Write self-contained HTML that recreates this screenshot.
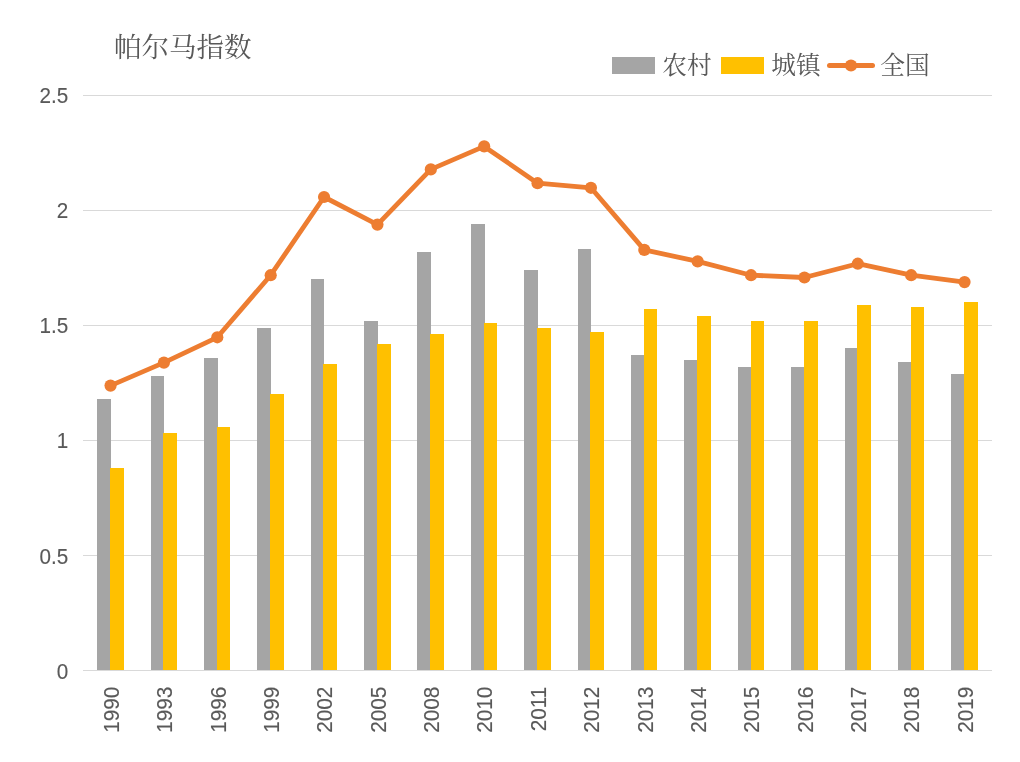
<!DOCTYPE html>
<html lang="zh-CN"><head><meta charset="utf-8"><title>帕尔马指数</title>
<style>
html,body{margin:0;padding:0;background:#fff;}
body{width:1020px;height:762px;overflow:hidden;position:relative;font-family:"Liberation Sans","Noto Sans CJK SC",sans-serif;}
svg{position:absolute;left:0;top:0;display:block}
text{fill:#595959}
.num{font-family:"Liberation Sans",sans-serif;font-size:21px;stroke:#595959;stroke-width:0.12px}
.cjk{font-family:"Noto Serif CJK SC","Liberation Serif",serif;}
</style></head><body>
<svg width="1020" height="762" viewBox="0 0 1020 762">
<rect width="1020" height="762" fill="#fff"/>
<g stroke="#d9d9d9" stroke-width="1" shape-rendering="crispEdges">
<line x1="83.0" y1="670.5" x2="992.0" y2="670.5"/>
<line x1="83.0" y1="555.5" x2="992.0" y2="555.5"/>
<line x1="83.0" y1="440.5" x2="992.0" y2="440.5"/>
<line x1="83.0" y1="325.5" x2="992.0" y2="325.5"/>
<line x1="83.0" y1="210.5" x2="992.0" y2="210.5"/>
<line x1="83.0" y1="95.5" x2="992.0" y2="95.5"/>
</g>
<g shape-rendering="crispEdges">
<rect x="97" y="399" width="14" height="271" fill="#a5a5a5"/>
<rect x="110" y="468" width="14" height="202" fill="#ffc000"/>
<rect x="151" y="376" width="13" height="294" fill="#a5a5a5"/>
<rect x="163" y="433" width="14" height="237" fill="#ffc000"/>
<rect x="204" y="358" width="14" height="312" fill="#a5a5a5"/>
<rect x="217" y="427" width="13" height="243" fill="#ffc000"/>
<rect x="257" y="328" width="14" height="342" fill="#a5a5a5"/>
<rect x="270" y="394" width="14" height="276" fill="#ffc000"/>
<rect x="311" y="279" width="13" height="391" fill="#a5a5a5"/>
<rect x="323" y="364" width="14" height="306" fill="#ffc000"/>
<rect x="364" y="321" width="14" height="349" fill="#a5a5a5"/>
<rect x="377" y="344" width="14" height="326" fill="#ffc000"/>
<rect x="417" y="252" width="14" height="418" fill="#a5a5a5"/>
<rect x="430" y="334" width="14" height="336" fill="#ffc000"/>
<rect x="471" y="224" width="14" height="446" fill="#a5a5a5"/>
<rect x="484" y="323" width="13" height="347" fill="#ffc000"/>
<rect x="524" y="270" width="14" height="400" fill="#a5a5a5"/>
<rect x="537" y="328" width="14" height="342" fill="#ffc000"/>
<rect x="578" y="249" width="13" height="421" fill="#a5a5a5"/>
<rect x="590" y="332" width="14" height="338" fill="#ffc000"/>
<rect x="631" y="355" width="14" height="315" fill="#a5a5a5"/>
<rect x="644" y="309" width="13" height="361" fill="#ffc000"/>
<rect x="684" y="360" width="14" height="310" fill="#a5a5a5"/>
<rect x="697" y="316" width="14" height="354" fill="#ffc000"/>
<rect x="738" y="367" width="14" height="303" fill="#a5a5a5"/>
<rect x="751" y="321" width="13" height="349" fill="#ffc000"/>
<rect x="791" y="367" width="14" height="303" fill="#a5a5a5"/>
<rect x="804" y="321" width="14" height="349" fill="#ffc000"/>
<rect x="845" y="348" width="13" height="322" fill="#a5a5a5"/>
<rect x="857" y="305" width="14" height="365" fill="#ffc000"/>
<rect x="898" y="362" width="14" height="308" fill="#a5a5a5"/>
<rect x="911" y="307" width="13" height="363" fill="#ffc000"/>
<rect x="951" y="374" width="14" height="296" fill="#a5a5a5"/>
<rect x="964" y="302" width="14" height="368" fill="#ffc000"/>
</g>
<polyline fill="none" stroke="#ed7d31" stroke-width="4.8" stroke-linejoin="round" stroke-linecap="round" points="110.55,385.60 163.93,362.60 217.30,337.30 270.68,275.20 324.05,197.00 377.43,224.60 430.80,169.40 484.18,146.40 537.55,183.20 590.92,187.80 644.30,249.90 697.67,261.40 751.05,275.20 804.42,277.50 857.80,263.70 911.17,275.20 964.55,282.10"/>
<circle cx="110.55" cy="385.60" r="6.1" fill="#ed7d31"/>
<circle cx="163.93" cy="362.60" r="6.1" fill="#ed7d31"/>
<circle cx="217.30" cy="337.30" r="6.1" fill="#ed7d31"/>
<circle cx="270.68" cy="275.20" r="6.1" fill="#ed7d31"/>
<circle cx="324.05" cy="197.00" r="6.1" fill="#ed7d31"/>
<circle cx="377.43" cy="224.60" r="6.1" fill="#ed7d31"/>
<circle cx="430.80" cy="169.40" r="6.1" fill="#ed7d31"/>
<circle cx="484.18" cy="146.40" r="6.1" fill="#ed7d31"/>
<circle cx="537.55" cy="183.20" r="6.1" fill="#ed7d31"/>
<circle cx="590.92" cy="187.80" r="6.1" fill="#ed7d31"/>
<circle cx="644.30" cy="249.90" r="6.1" fill="#ed7d31"/>
<circle cx="697.67" cy="261.40" r="6.1" fill="#ed7d31"/>
<circle cx="751.05" cy="275.20" r="6.1" fill="#ed7d31"/>
<circle cx="804.42" cy="277.50" r="6.1" fill="#ed7d31"/>
<circle cx="857.80" cy="263.70" r="6.1" fill="#ed7d31"/>
<circle cx="911.17" cy="275.20" r="6.1" fill="#ed7d31"/>
<circle cx="964.55" cy="282.10" r="6.1" fill="#ed7d31"/>
<text class="num" text-anchor="end" transform="translate(68.2,679.00) scale(0.985,1.03)">0</text>
<text class="num" text-anchor="end" transform="translate(68.2,564.00) scale(0.985,1.03)">0.5</text>
<text class="num" text-anchor="end" transform="translate(68.2,448.00) scale(0.985,1.03)">1</text>
<text class="num" text-anchor="end" transform="translate(68.2,333.00) scale(0.985,1.03)">1.5</text>
<text class="num" text-anchor="end" transform="translate(68.2,218.00) scale(0.985,1.03)">2</text>
<text class="num" text-anchor="end" transform="translate(68.2,103.00) scale(0.985,1.03)">2.5</text>
<text class="num" text-anchor="end" transform="translate(118.80,686.6) rotate(-90) scale(0.99,1.09)">1990</text>
<text class="num" text-anchor="end" transform="translate(172.18,686.6) rotate(-90) scale(0.99,1.09)">1993</text>
<text class="num" text-anchor="end" transform="translate(225.55,686.6) rotate(-90) scale(0.99,1.09)">1996</text>
<text class="num" text-anchor="end" transform="translate(278.93,686.6) rotate(-90) scale(0.99,1.09)">1999</text>
<text class="num" text-anchor="end" transform="translate(332.30,686.6) rotate(-90) scale(0.99,1.09)">2002</text>
<text class="num" text-anchor="end" transform="translate(385.68,686.6) rotate(-90) scale(0.99,1.09)">2005</text>
<text class="num" text-anchor="end" transform="translate(439.05,686.6) rotate(-90) scale(0.99,1.09)">2008</text>
<text class="num" text-anchor="end" transform="translate(492.43,686.6) rotate(-90) scale(0.99,1.09)">2010</text>
<text class="num" text-anchor="end" transform="translate(545.80,686.6) rotate(-90) scale(0.99,1.09)">2011</text>
<text class="num" text-anchor="end" transform="translate(599.17,686.6) rotate(-90) scale(0.99,1.09)">2012</text>
<text class="num" text-anchor="end" transform="translate(652.55,686.6) rotate(-90) scale(0.99,1.09)">2013</text>
<text class="num" text-anchor="end" transform="translate(705.92,686.6) rotate(-90) scale(0.99,1.09)">2014</text>
<text class="num" text-anchor="end" transform="translate(759.30,686.6) rotate(-90) scale(0.99,1.09)">2015</text>
<text class="num" text-anchor="end" transform="translate(812.67,686.6) rotate(-90) scale(0.99,1.09)">2016</text>
<text class="num" text-anchor="end" transform="translate(866.05,686.6) rotate(-90) scale(0.99,1.09)">2017</text>
<text class="num" text-anchor="end" transform="translate(919.42,686.6) rotate(-90) scale(0.99,1.09)">2018</text>
<text class="num" text-anchor="end" transform="translate(972.80,686.6) rotate(-90) scale(0.99,1.09)">2019</text>
<text class="cjk" x="114" y="56.8" font-size="27.5">帕尔马指数</text>
<rect x="612" y="57" width="43" height="17" fill="#a5a5a5"/>
<text class="cjk" x="662.3" y="74.3" font-size="24.7">农村</text>
<rect x="721" y="57" width="43" height="17" fill="#ffc000"/>
<text class="cjk" x="771.3" y="74.3" font-size="24.7">城镇</text>
<line x1="829.5" y1="65.5" x2="872.5" y2="65.5" stroke="#ed7d31" stroke-width="5" stroke-linecap="round"/>
<circle cx="851" cy="65.5" r="6.1" fill="#ed7d31"/>
<text class="cjk" x="880.3" y="74.3" font-size="24.7">全国</text>
</svg></body></html>
